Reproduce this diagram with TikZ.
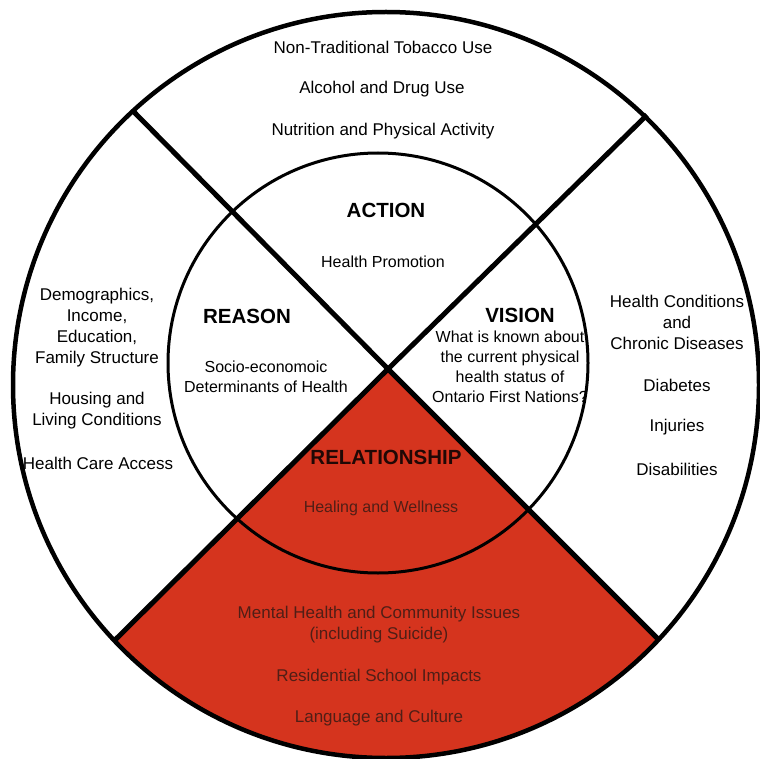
\documentclass[tikz,border=0pt]{standalone}
\usepackage{fontspec}
\setmainfont{Liberation Sans}
\usetikzlibrary{calc}
\definecolor{wedgered}{RGB}{213,52,30}
\definecolor{wedgetext}{RGB}{80,30,22}
\begin{document}
\begin{tikzpicture}[x=1pt,y=-1pt,
  outertxt/.style={font=\fontsize{17}{21}\selectfont, align=center, inner sep=0pt},
  innertxt/.style={font=\fontsize{16}{20}\selectfont, align=center, inner sep=0pt},
  head/.style={font=\bfseries\fontsize{20.5}{24}\selectfont, inner sep=0pt},
  dim/.style={text=wedgetext},
  rim/.style={line width=4.5pt},
  spoke/.style={line width=5pt},
  ring/.style={line width=3pt}]
\useasboundingbox[fill=white] (0,0) rectangle (760,759);

% centres of the two circles, crossing point of the spokes, spoke ends
\coordinate (O) at (386,385);
\coordinate (I) at (378,363);
\coordinate (X) at (388,369);
\coordinate (UL) at (133,111);
\coordinate (UR) at (647,115);
\coordinate (LL) at (114,641);
\coordinate (LR) at (659,640);

% lower quadrant: Relationship
\begin{scope}
  \clip (O) circle (373pt);
  \fill[wedgered] (X) -- ($(X)!2!(LL)$) -- ($(X)!2!(LR)$) -- cycle;
\end{scope}

% top quadrant, outer ring
\node[outertxt] (tob) at (383,47) {Non-Traditional Tobacco Use};
\node[outertxt] (alc) at (382,89) {Alcohol and Drug Use};
\node[outertxt] (nut) at (383,131) {Nutrition and Physical Activity};

% top quadrant, inner circle
\node[head] (action) at (386,210) {ACTION};
\node[innertxt] (promo) at (383,262) {Health Promotion};

% left quadrant
\node[head] (reason) at (247,316) {REASON};
\node[innertxt] (socio) at (266,377) {Socio-economoic\\Determinants of Health};
\node[outertxt] (demo) at (97,328) {Demographics,\\Income,\\Education,\\Family Structure};
\node[outertxt] (house) at (97,411) {Housing and\\Living Conditions};
\node[outertxt] (care) at (98,463) {Health Care Access};

% right quadrant
\node[head] (vision) at (520,315) {VISION};
\node[innertxt] (known) at (510,367) {What is known about\\the current physical\\health status of\\Ontario First Nations?};
\node[outertxt] (cond) at (677,322) {Health Conditions\\and\\Chronic Diseases};
\node[outertxt] (diab) at (677,385) {Diabetes};
\node[outertxt] (inj) at (677,427) {Injuries};
\node[outertxt] (dis) at (677,469) {Disabilities};

% bottom quadrant
\node[head, text=black!85!wedgered] (rel) at (386,457) {RELATIONSHIP};
\node[innertxt, dim] (heal) at (381,508) {Healing and Wellness};
\node[outertxt, dim] (mental) at (379,625) {Mental Health and Community Issues\\(including Suicide)};
\node[outertxt, dim] (resid) at (379,677) {Residential School Impacts};
\node[outertxt, dim] (lang) at (379,718) {Language and Culture};

% circles and spokes
\draw[ring] (I) circle (210pt);
\draw[spoke] (UL) -- (X) -- (LR);
\draw[spoke] (UR) -- (X) -- (LL);
\draw[rim] (O) circle (373pt);
\end{tikzpicture}
\end{document}
